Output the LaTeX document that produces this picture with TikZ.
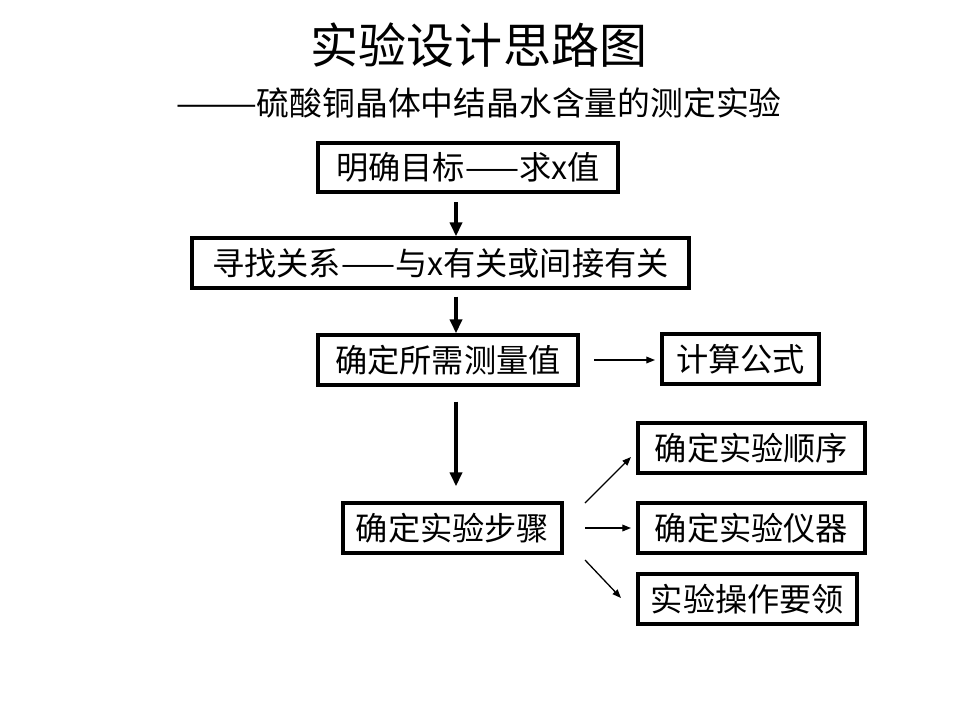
\documentclass[tikz,border=0pt]{standalone}
\usepackage{fontspec}
\setmainfont{Noto Sans CJK SC}
\usetikzlibrary{arrows.meta}
\tikzstyle{bx}=[shape=rectangle,
                draw=black,
                line width=3.4pt,
                inner sep=0pt,
                minimum height=1.48cm,
                font=\fontsize{27.5pt}{32pt}\selectfont]
\tikzstyle{bigarr}=[line width=3.2pt,
                -{Triangle[length=0.42cm,width=0.36cm]}]
\tikzstyle{thinarr}=[line width=1.1pt,
                -{Triangle[length=0.26cm,width=0.2cm]}]

\begin{document}
\begin{tikzpicture}[x=0.03cm,y=-0.03cm]
\useasboundingbox (0,0) rectangle (960,720);

% title
\node (t) at (479,45) {\fontsize{41pt}{46pt}\selectfont 实验设计思路图};
\node (st) at (479,103) {\fontsize{28pt}{32pt}\selectfont ———硫酸铜晶体中结晶水含量的测定实验};

% main column
\node[bx, minimum width=9cm] (b1) at (468,167.5) {明确目标——求x值};
\node[bx, minimum width=14.91cm] (b2) at (440.5,263) {寻找关系——与x有关或间接有关};
\node[bx, minimum width=7.8cm] (b3) at (448,360) {确定所需测量值};
\node[bx, minimum width=4.71cm] (b4) at (740.5,359) {计算公式};
\node[bx, minimum width=6.57cm] (b5) at (452.5,528) {确定实验步骤};

% right column
\node[bx, minimum width=6.81cm] (b6) at (751.5,448) {确定实验顺序};
\node[bx, minimum width=6.81cm] (b7) at (751.5,528) {确定实验仪器};
\node[bx, minimum width=6.57cm] (b8) at (747.5,599) {实验操作要领};

% paths
\coordinate (ax) at (456,0);
\draw[bigarr, shorten <=0.24cm] (b1.south -| ax) -- (b2.north -| ax);
\draw[bigarr, shorten <=0.21cm] (b2.south -| ax) -- (b3.north -| ax);
\draw[bigarr, shorten <=0.45cm, shorten >=0.45cm] (b3.south -| ax) -- (b5.north -| ax);

\draw[thinarr, shorten <=0.42cm, shorten >=0.15cm] (b3.east) -- (b4.west |- b3.east);
\draw[thinarr] ([shift={(21,-25)}]b5.east) -- ([shift={(-5,9)}]b6.west);
\draw[thinarr] ([shift={(21,0)}]b5.east) -- ([shift={(-5,0)}]b7.west);
\draw[thinarr] ([shift={(21,32)}]b5.east) -- ([shift={(-15,-1)}]b8.west);
\end{tikzpicture}
\end{document}
